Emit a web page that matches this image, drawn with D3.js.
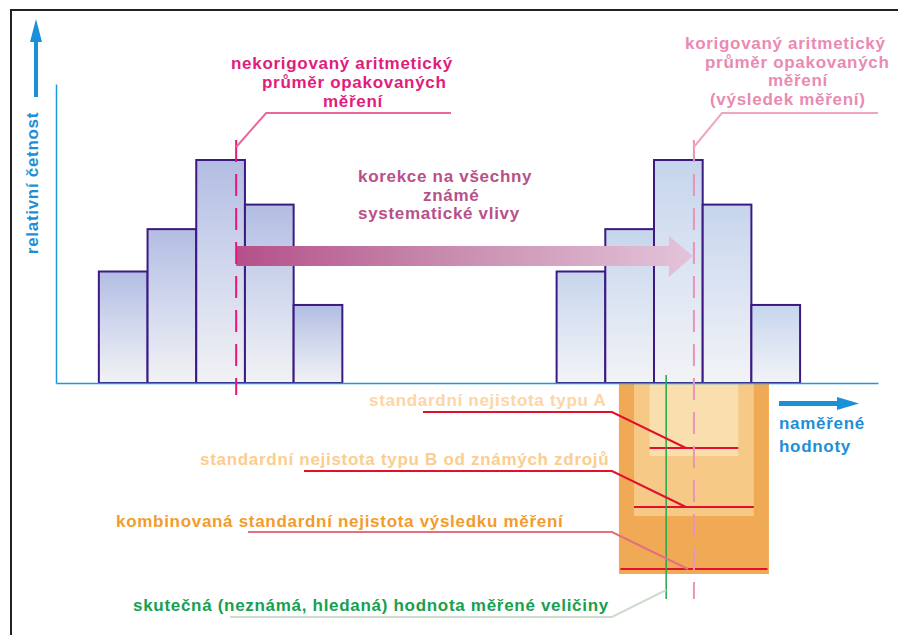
<!DOCTYPE html>
<html><head><meta charset="utf-8">
<script src="https://cdn.jsdelivr.net/npm/d3@7"></script>
<style>
body{margin:0;background:#fff;}
svg text{font-family:"Liberation Sans",Arial,sans-serif;font-weight:bold;font-size:17px;letter-spacing:0.7px;}
</style>
</head><body>
<svg id="chart" width="898" height="635"></svg>
<script>
// ---------- data (measurement units / relative frequency) ----------
const binStarts = [1, 2, 3, 4, 5];
const relFrequency = [0.50, 0.69, 1.00, 0.80, 0.35];
const binWidth = 1;
const correction = 9.40;            // known systematic effects
const uncorrectedMean = 3.82;
const trueValue = 12.65;
const uncertaintyNames = ["A", "B", "C"];
const uncertaintyHalfWidths = [0.91, 1.23, 1.54];  // type A, type B, combined

const labelLeft = ["nekorigovaný aritmetický", "průměr opakovaných", "měření"];
const labelRight = ["korigovaný aritmetický", "průměr opakovaných", "měření", "(výsledek měření)"];
const labelMiddle = ["korekce na všechny", "známé", "systematické vlivy"];
const labelA = "standardní nejistota typu A";
const labelB = "standardní nejistota typu B od známých zdrojů";
const labelC = "kombinovaná standardní nejistota výsledku měření";
const labelTrue = "skutečná (neznámá, hledaná) hodnota měřené veličiny";
const labelXAxis = ["naměřené", "hodnoty"];
const labelYAxis = "relativní  četnost";

// ---------- setup ----------
const svg = d3.select("#chart");
const x = d3.scaleLinear().domain([0.12, 17]).range([56, 878]);
const y = d3.scaleLinear().domain([0, 1]).range([383, 160]);
const correctedMean = uncorrectedMean + correction;

const defs = svg.append("defs");
function vGrad(id, stops) {
  const g = defs.append("linearGradient").attr("id", id)
    .attr("x1", 0).attr("y1", 0).attr("x2", 0).attr("y2", 1);
  stops.forEach(([o, c]) => g.append("stop").attr("offset", o).attr("stop-color", c));
}
vGrad("barL", [[0, "#b2bde2"], [0.5, "#d2d9ee"], [1, "#f2f2f4"]]);
vGrad("barR", [[0, "#c6d5ec"], [0.5, "#dde5f3"], [1, "#f2f3f6"]]);
const ag = defs.append("linearGradient").attr("id", "arrowG")
  .attr("gradientUnits", "userSpaceOnUse")
  .attr("x1", x(uncorrectedMean)).attr("x2", x(correctedMean)).attr("y1", 0).attr("y2", 0);
[[0, "#b5508a"], [0.45, "#c78aad"], [1, "#e4c4da"]].forEach(([o, c]) =>
  ag.append("stop").attr("offset", o).attr("stop-color", c));

// frame
svg.append("line").attr("x1", 11).attr("x2", 11).attr("y1", 9).attr("y2", 635)
  .attr("stroke", "#222").attr("stroke-width", 2);
svg.append("line").attr("x1", 10).attr("x2", 898).attr("y1", 10).attr("y2", 10)
  .attr("stroke", "#222").attr("stroke-width", 2);

// ---------- uncertainty boxes ----------
const boxBottoms = [456, 516, 574];
const boxColors = ["#fadfae", "#f7c987", "#f0aa55"];
const boxes = uncertaintyHalfWidths.map((h, i) => ({ h, bottom: boxBottoms[i], color: boxColors[i] })).reverse();
svg.selectAll("rect.unc").data(boxes).join("rect").attr("class", "unc")
  .attr("x", d => x(correctedMean - d.h)).attr("width", d => x(correctedMean + d.h) - x(correctedMean - d.h))
  .attr("y", 383).attr("height", d => d.bottom - 383).attr("fill", d => d.color);

const redY = [448, 507, 569];
const redInset = [0, 0, 1.5];
svg.selectAll("line.red").data(uncertaintyHalfWidths).join("line").attr("class", "red")
  .attr("x1", (h, i) => x(correctedMean - h) + redInset[i])
  .attr("x2", (h, i) => x(correctedMean + h) - redInset[i])
  .attr("y1", (h, i) => redY[i]).attr("y2", (h, i) => redY[i])
  .attr("stroke", "#e2102c").attr("stroke-width", 2);

// ---------- histograms ----------
const bins = binStarts.map((b, i) => ({ x0: b, f: relFrequency[i] }));
function drawHist(shift, fill) {
  svg.append("g").selectAll("rect").data(bins).join("rect")
    .attr("x", d => x(d.x0 + shift)).attr("width", d => x(d.x0 + shift + binWidth) - x(d.x0 + shift))
    .attr("y", d => y(d.f)).attr("height", d => y(0) - y(d.f))
    .attr("fill", fill).attr("stroke", "#3b1a82").attr("stroke-width", 2);
}
drawHist(0, "url(#barL)");
drawHist(correction, "url(#barR)");

// ---------- axes ----------
const xAxis = svg.append("g").attr("transform", `translate(0,${y(0)})`)
  .call(d3.axisBottom(x).ticks(0).tickSizeOuter(0));
const yAxis = svg.append("g").attr("transform", `translate(${x(0.12)},0)`)
  .call(d3.axisLeft(d3.scaleLinear().domain([0, 1.34]).range([383, 84])).ticks(0).tickSizeOuter(0));
[xAxis, yAxis].forEach(a => a.select(".domain").attr("stroke", "#1c9ad8").attr("stroke-width", 1.5));

// y arrow
svg.append("line").attr("x1", 36).attr("x2", 36).attr("y1", 97).attr("y2", 40)
  .attr("stroke", "#1a90d8").attr("stroke-width", 4);
svg.append("path").attr("d", "M30,42 L36,19 L42,42 Z").attr("fill", "#1a90d8");
svg.append("text").attr("transform", "translate(38,183) rotate(-90)").attr("text-anchor", "middle")
  .attr("fill", "#1e8fd6").text(labelYAxis);

// x arrow
svg.append("line").attr("x1", 779).attr("x2", 838).attr("y1", 403.5).attr("y2", 403.5)
  .attr("stroke", "#1a90d8").attr("stroke-width", 5);
svg.append("path").attr("d", "M837,397 L859,403.5 L837,410 Z").attr("fill", "#1a90d8");
svg.selectAll("text.xl").data(labelXAxis).join("text").attr("class", "xl")
  .attr("x", 779).attr("y", (d, i) => 429 + i * 23).attr("fill", "#1e8fd6").text(d => d);

// ---------- correction arrow ----------
const ax0 = x(uncorrectedMean), ax1 = x(correctedMean) - 1;
svg.append("path")
  .attr("d", `M${ax0},246 L${ax1 - 24},246 L${ax1 - 24},236 L${ax1},256 L${ax1 - 24},277 L${ax1 - 24},266 L${ax0},266 Z`)
  .attr("fill", "url(#arrowG)");
svg.selectAll("text.mid").data(labelMiddle).join("text").attr("class", "mid")
  .attr("x", (d, i) => [358, 423, 358][i]).attr("y", (d, i) => 182 + i * 18.5)
  .attr("fill", "#b8508a").text(d => d);

// ---------- mean lines ----------
svg.append("line").attr("x1", x(uncorrectedMean)).attr("x2", x(uncorrectedMean)).attr("y1", 140).attr("y2", 395)
  .attr("stroke", "#e8157a").attr("stroke-width", 2).attr("stroke-dasharray", "22,12");
svg.append("line").attr("x1", x(correctedMean)).attr("x2", x(correctedMean)).attr("y1", 140).attr("y2", 599)
  .attr("stroke", "#ea94b6").attr("stroke-width", 2).attr("stroke-dasharray", "22,12");

// true value line
svg.append("line").attr("x1", x(trueValue)).attr("x2", x(trueValue)).attr("y1", 375).attr("y2", 599)
  .attr("stroke", "#1fa84c").attr("stroke-width", 1.5);

// ---------- callouts ----------
const ulx = x(uncorrectedMean), clx = x(correctedMean);
svg.append("path").attr("d", `M${ulx},147 L${ulx + 30},113 L451,113`)
  .attr("fill", "none").attr("stroke", "#e8689e").attr("stroke-width", 2);
svg.selectAll("text.lt").data(labelLeft).join("text").attr("class", "lt")
  .attr("x", (d, i) => [231, 262, 323][i]).attr("y", (d, i) => 69 + i * 19)
  .attr("fill", "#e01d7c").text(d => d);

svg.append("path").attr("d", `M${clx},147 L${clx + 28},113 L878,113`)
  .attr("fill", "none").attr("stroke", "#f0a6c2").attr("stroke-width", 2);
svg.selectAll("text.rt").data(labelRight).join("text").attr("class", "rt")
  .attr("x", (d, i) => [685, 705, 768, 710][i]).attr("y", (d, i) => 49 + i * 18.5)
  .attr("fill", "#ea8ab2").text(d => d);

// bottom labels with leaders
const bottomLabels = [
  { t: labelA, tx: 369, ty: 406, lx: 423, ly: 412, ex: x(correctedMean) - 8, ey: redY[0], c: "#fdd5a6", lc: "#e2102c" },
  { t: labelB, tx: 200, ty: 465, lx: 304, ly: 471, ex: x(correctedMean) - 8, ey: redY[1], c: "#fbcd8e", lc: "#e2102c" },
  { t: labelC, tx: 116, ty: 527, lx: 248, ly: 532, ex: x(correctedMean) - 6, ey: redY[2], c: "#f29c2c", lc: "#e2707e" },
  { t: labelTrue, tx: 133, ty: 611, lx: 230, ly: 617, ex: x(trueValue), ey: 590, c: "#17a04e", lc: "#cddccd" }
];
svg.selectAll("path.lead").data(bottomLabels).join("path").attr("class", "lead")
  .attr("d", d => `M${d.lx},${d.ly} L612,${d.ly} L${d.ex},${d.ey}`)
  .attr("fill", "none").attr("stroke", d => d.lc).attr("stroke-width", 2);
svg.selectAll("text.bl").data(bottomLabels).join("text").attr("class", "bl")
  .attr("x", d => d.tx).attr("y", d => d.ty).attr("fill", d => d.c).text(d => d.t);
</script>
</body></html>
